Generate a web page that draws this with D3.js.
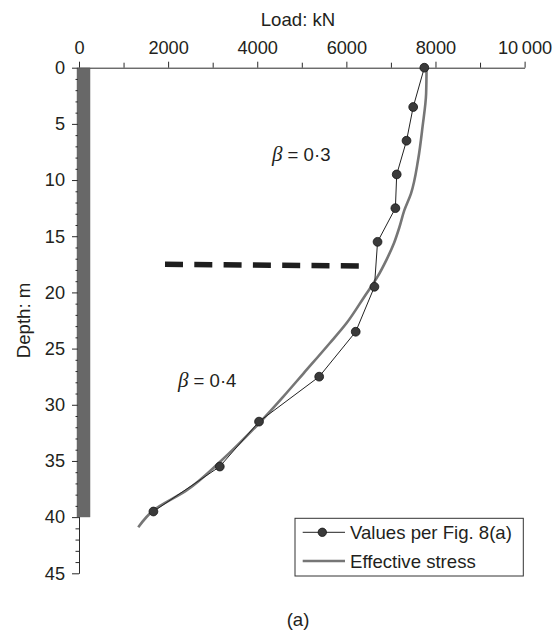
<!DOCTYPE html>
<html>
<head>
<meta charset="utf-8">
<script src="https://cdn.jsdelivr.net/npm/d3@7"></script>
<style>
  html, body { margin: 0; padding: 0; background: #fff; }
  svg { display: block; font-family: "Liberation Sans", Arial, sans-serif; }
</style>
</head>
<body>
<svg id="chart" width="560" height="634"></svg>
<script>
// ---- data ----
const xTicks = [0, 2000, 4000, 6000, 8000, 10000];
const xMinorTicks = [1000, 3000, 5000, 7000, 9000];
const yTicks = [0, 5, 10, 15, 20, 25, 30, 35, 40, 45];
const yMinorTicks = d3.range(0, 46).filter(d => d % 5 !== 0);

const figDepth = [0, 3.5, 6.5, 9.5, 12.5, 15.5, 19.5, 23.5, 27.5, 31.5, 35.5, 39.5];
const figLoad  = [7750, 7500, 7350, 7130, 7100, 6700, 6630, 6210, 5390, 4040, 3160, 1670];

const effDepth = [0, 2.3, 5.25, 8.2, 11.2, 12.7, 14.2, 15.6, 17.1, 18.6, 20.4, 22.7, 24.5, 27.2, 29.3, 31.4, 35.1, 37.6, 39.4, 40.9];
const effLoad  = [7800, 7790, 7710, 7610, 7450, 7300, 7190, 7070, 6900, 6700, 6400, 6010, 5630, 5040, 4580, 4100, 3160, 2420, 1670, 1330];

const pileLoad = [-50, 250];
const pileDepth = [0, 40];
const boundaryLoad = [1930, 6290];
const boundaryDepth = [17.5, 17.65];

const seriesNames = ["Values per Fig. 8(a)", "Effective stress"];
const betaLabels = [
  { beta: "0·3", load: 4330, depth: 8.28 },
  { beta: "0·4", load: 2220, depth: 28.42 }
];

// ---- scales ----
const svg = d3.select("#chart");
const x = d3.scaleLinear().domain([0, 10000]).range([79, 524.6]);
const y = d3.scaleLinear().domain([0, 45]).range([67.7, 573.3]);
const fmt = d => d === 10000 ? "10\u2009000" : String(d);
const textColor = "#231f20";
const fs = 18.6;

// pile bar
svg.append("rect")
  .attr("x", x(pileLoad[0])).attr("y", y(pileDepth[0]))
  .attr("width", x(pileLoad[1]) - x(pileLoad[0]))
  .attr("height", y(pileDepth[1]) - y(pileDepth[0]))
  .attr("fill", "#686868");

// axes
const axisColor = "#2a2a2a";
const gx = svg.append("g").attr("transform", `translate(0,${y(0)})`)
  .call(d3.axisTop(x).tickValues(xTicks).tickFormat(fmt).tickSize(6).tickPadding(8).tickSizeOuter(0));
const gxm = svg.append("g").attr("transform", `translate(0,${y(0)})`)
  .call(d3.axisTop(x).tickValues(xMinorTicks).tickFormat("").tickSize(5).tickSizeOuter(0));
gxm.select(".domain").remove();

const gy = svg.append("g").attr("transform", `translate(${x(0)},0)`)
  .call(d3.axisLeft(y).tickValues(yTicks).tickFormat(d3.format("d")).tickSize(7).tickPadding(7).tickSizeOuter(0));
const gym = svg.append("g").attr("transform", `translate(${x(0)},0)`)
  .call(d3.axisLeft(y).tickValues(yMinorTicks).tickFormat("").tickSize(3.5).tickSizeOuter(0));
gym.select(".domain").remove();

[gx, gxm, gy, gym].forEach(g => {
  g.selectAll("path, line").attr("stroke", axisColor).attr("stroke-width", 1);
  g.selectAll("text").attr("fill", textColor).attr("font-size", 18.2)
    .attr("font-family", "'Liberation Sans', Arial, sans-serif");
});
gx.selectAll("text").attr("dy", 0);

// re-draw bar over y-axis line
svg.append("rect")
  .attr("x", x(pileLoad[0]) + 1).attr("y", y(pileDepth[0]) + 0.5)
  .attr("width", x(pileLoad[1]) - x(pileLoad[0]) - 1)
  .attr("height", y(pileDepth[1]) - y(pileDepth[0]) - 0.5)
  .attr("fill", "#686868");

// titles
svg.append("text").attr("x", 298).attr("y", 26).attr("text-anchor", "middle")
  .attr("font-size", fs).attr("fill", textColor).text("Load: kN");
svg.append("text").attr("transform", `translate(29.5,${(y(0) + y(45)) / 2}) rotate(-90)`)
  .attr("text-anchor", "middle").attr("font-size", fs).attr("fill", textColor).text("Depth: m");
svg.append("text").attr("x", 298).attr("y", 626).attr("text-anchor", "middle")
  .attr("font-size", fs).attr("fill", textColor).text("(a)");

// boundary dashed line
svg.append("line")
  .attr("x1", x(boundaryLoad[0])).attr("y1", y(boundaryDepth[0]))
  .attr("x2", x(boundaryLoad[1])).attr("y2", y(boundaryDepth[1]))
  .attr("stroke", "#1e1e1e").attr("stroke-width", 5.5)
  .attr("stroke-dasharray", "18,11.3");

// effective stress curve
const effData = effDepth.map((d, i) => ({ d, v: effLoad[i] }));
svg.append("path").datum(effData)
  .attr("d", d3.line().x(p => x(p.v)).y(p => y(p.d)).curve(d3.curveMonotoneY))
  .attr("fill", "none").attr("stroke", "#767676").attr("stroke-width", 2.6);

// values per fig 8(a)
const figData = figDepth.map((d, i) => ({ d, v: figLoad[i] }));
svg.append("path").datum(figData)
  .attr("d", d3.line().x(p => x(p.v)).y(p => y(p.d)))
  .attr("fill", "none").attr("stroke", "#222").attr("stroke-width", 1);
svg.selectAll("circle.pt").data(figData).enter().append("circle")
  .attr("class", "pt")
  .attr("cx", p => x(p.v)).attr("cy", p => y(p.d)).attr("r", 4.4)
  .attr("fill", "#3a3a3a").attr("stroke", "#151515").attr("stroke-width", 0.8);

// beta labels
betaLabels.forEach(b => {
  const t = svg.append("text").attr("x", x(b.load)).attr("y", y(b.depth))
    .attr("font-size", fs).attr("fill", textColor);
  t.append("tspan").attr("font-family", "'Liberation Serif', 'DejaVu Serif', serif")
    .attr("font-style", "italic").attr("font-size", 21).text("β");
  t.append("tspan").text(" = " + b.beta);
});

// legend
const lg = svg.append("g");
lg.append("rect").attr("x", 295).attr("y", 518.3).attr("width", 228.3).attr("height", 57.7)
  .attr("fill", "#fff").attr("stroke", "#333").attr("stroke-width", 1);
const rows = [532.3, 561];
lg.append("line").attr("x1", 302.7).attr("x2", 345).attr("y1", rows[0]).attr("y2", rows[0])
  .attr("stroke", "#222").attr("stroke-width", 1);
lg.append("circle").attr("cx", 322.3).attr("cy", rows[0]).attr("r", 4.2)
  .attr("fill", "#3a3a3a").attr("stroke", "#151515").attr("stroke-width", 0.8);
lg.append("line").attr("x1", 302.7).attr("x2", 345).attr("y1", rows[1]).attr("y2", rows[1])
  .attr("stroke", "#767676").attr("stroke-width", 2.6);
seriesNames.forEach((n, i) => {
  lg.append("text").attr("x", 350).attr("y", rows[i]).attr("dy", "0.35em")
    .attr("font-size", fs).attr("fill", textColor).text(n);
});
</script>
</body>
</html>
